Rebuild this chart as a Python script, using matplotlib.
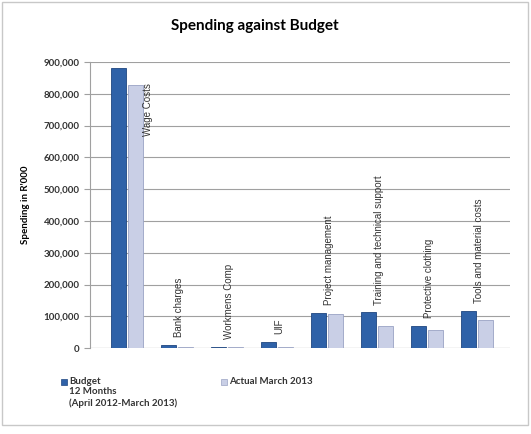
import numpy as np
from matplotlib import pyplot as plt
from matplotlib.ticker import FuncFormatter

categories = ["Wage Costs", "Bank charges", "Workmens Comp", "UIF",
              "Project management", "Training and technical support",
              "Protective clothing", "Tools and material costs"]
budget = [880000, 9000, 3000, 20000, 110000, 112000, 70000, 118000]
actual = [828000, 2000, 2000, 3000, 106000, 70000, 58000, 88000]
y_ticks = [0, 100000, 200000, 300000, 400000, 500000, 600000, 700000,
           800000, 900000]
series_names = ["Budget\n12 Months\n(April 2012-March 2013)",
                "Actual March 2013"]
colors = ["#2f62a8", "#c9cfe6"]
edges = ["#1f4680", "#9aa3c4"]

plt.rcParams['font.family'] = ['Lato', 'DejaVu Sans']

fig = plt.figure(figsize=(5.31, 4.34), dpi=100)
# light frame round the chart area
fig.patches.append(plt.Rectangle((0.003, 0.02), 0.992, 0.975,
                                 transform=fig.transFigure, fill=False,
                                 edgecolor="#c8c8c8", linewidth=1))
ax = fig.add_axes([0.17, 0.198, 0.79, 0.659])

x = np.arange(len(categories))
w = 0.3
ax.bar(x - w / 2 - 0.02, budget, w, color=colors[0], edgecolor=edges[0],
       linewidth=0.6, zorder=3)
ax.bar(x + w / 2 + 0.02, actual, w, color=colors[1], edgecolor=edges[1],
       linewidth=0.6, zorder=3)

# category names written above the columns
for i, name in enumerate(categories):
    top = max(budget[i], actual[i])
    if top + 300000 > y_ticks[-1]:
        ax.text(x[i] + w + 0.12, actual[i] + 5000, name, rotation=90,
                ha="center", va="top", fontsize=7, color="#333333",
                family="Liberation Sans", zorder=4)
    else:
        ax.text(x[i] + 0.05, top + 25000, name, rotation=90,
                ha="center", va="bottom", fontsize=7, color="#333333",
                family="Liberation Sans", zorder=4)

ax.set_ylim(0, y_ticks[-1])
ax.set_xlim(-0.725, len(categories) - 0.345)
ax.set_yticks(y_ticks)
ax.yaxis.set_major_formatter(FuncFormatter(lambda v, p: f"{int(v):,}"))
ax.set_xticks([])
ax.grid(axis="y", color="#a0a0a0", linewidth=0.8, zorder=0)
for s in ["top", "right", "bottom"]:
    ax.spines[s].set_visible(False)
ax.spines["left"].set_color("#a0a0a0")
ax.axhline(0, color="#a0a0a0", linewidth=0.8, zorder=2)
ax.tick_params(axis="y", length=4, color="#a0a0a0", labelsize=7,
               labelcolor="#333333")
for t in ax.get_yticklabels():
    t.set_fontweight("bold")
ax.set_ylabel("Spending in R'000", fontsize=7, fontweight="bold",
              labelpad=10)

fig.text(0.48, 0.93, "Spending against Budget", ha="center",
         fontsize=11, fontweight="bold")

# legend drawn by hand so the swatches sit at the first text line
for lx, name, c, e in zip([0.115, 0.417], series_names, colors, edges):
    fig.patches.append(plt.Rectangle((lx, 0.113), 0.011, 0.013,
                                     transform=fig.transFigure,
                                     facecolor=c, edgecolor=e, linewidth=0.5))
    fig.text(lx + 0.015, 0.132, name, ha="left", va="top", fontsize=7,
             fontweight="bold", color="#333333", linespacing=1.25)

fig.savefig("out.png", dpi=100)
